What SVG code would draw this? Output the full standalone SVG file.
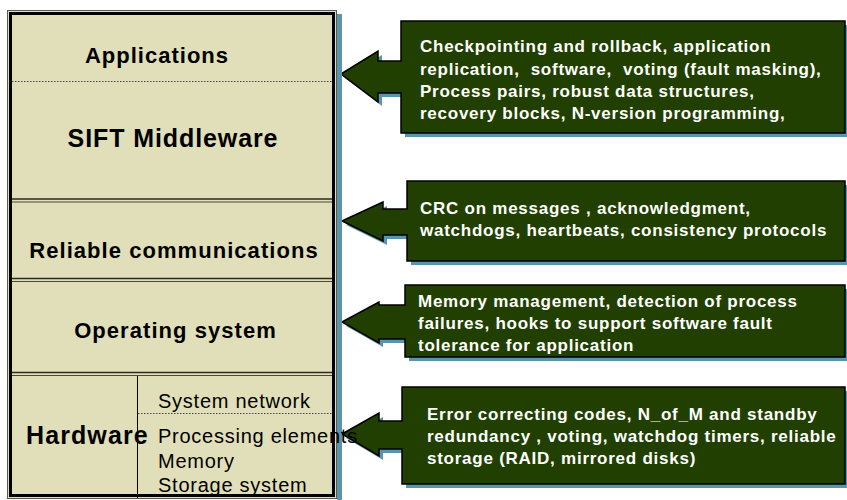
<svg xmlns="http://www.w3.org/2000/svg" width="847" height="500" viewBox="0 0 847 500">
<style>
.bg{fill:#ffffff}
.layer{fill:#e0dfb9}
.t{font-family:"Liberation Sans",Arial,sans-serif;fill:#000}
.b{font-weight:bold}
.w{font-family:"Liberation Sans",Arial,sans-serif;font-weight:bold;font-size:17px;letter-spacing:0.75px;fill:#ffffff}
.callout{fill:#213f00;stroke:#000;stroke-width:1.5;stroke-linejoin:miter}
.shadow{fill:#5b95ad}
.dot{stroke:#444;stroke-width:1;stroke-dasharray:1.5 1.5;fill:none}
.dbl1{stroke:#2a2a20;stroke-width:1.5}
.dbl2{stroke:#4a4a3a;stroke-width:1.2}
.sub{font-size:20px;letter-spacing:0.75px}
</style>
<rect class="bg" x="0" y="0" width="847" height="500"/>

<g id="connectors">
  <g id="arrow-apps">
    <polygon class="shadow" transform="translate(4,4)" points="341,74 378,51 378,61 401,61 401,21 845,21 845,133 401,133 401,93 378,93 378,102"/>
    <polygon class="callout" points="341,74 378,51 378,61 401,61 401,21 845,21 845,133 401,133 401,93 378,93 378,102"/>
  </g>
  <g id="arrow-comm">
    <polygon class="shadow" transform="translate(4,4)" points="342,221 383,202 383,209 407,209 407,181 845,181 845,261 407,261 407,235 383,235 383,241"/>
    <polygon class="callout" points="342,221 383,202 383,209 407,209 407,181 845,181 845,261 407,261 407,235 383,235 383,241"/>
  </g>
  <g id="arrow-os">
    <polygon class="shadow" transform="translate(4,4)" points="342,322 379,302 379,305 405,305 405,285 845,285 845,357 405,357 405,339 379,339 379,343"/>
    <polygon class="callout" points="342,322 379,302 379,305 405,305 405,285 845,285 845,357 405,357 405,339 379,339 379,343"/>
  </g>
  <g id="arrow-hw">
    <polygon class="shadow" transform="translate(4,4)" points="342,434 379,413 379,421 402,421 402,387 845,387 845,484 402,484 402,449 379,449 379,456"/>
    <polygon class="callout" points="342,434 379,413 379,421 402,421 402,387 845,387 845,484 402,484 402,449 379,449 379,456"/>
  </g>
</g>

<g id="callout-apps-text">
  <text class="w" x="420" y="52">Checkpointing and rollback, application</text>
  <text class="w" x="420" y="75" xml:space="preserve">replication,  software,  voting (fault masking),</text>
  <text class="w" x="420" y="97">Process pairs, robust data structures,</text>
  <text class="w" x="420" y="119">recovery blocks, N-version programming,</text>
</g>
<g id="callout-comm-text">
  <text class="w" x="420" y="214">CRC on messages , acknowledgment,</text>
  <text class="w" x="420" y="236">watchdogs, heartbeats, consistency protocols</text>
</g>
<g id="callout-os-text">
  <text class="w" x="418" y="307">Memory management, detection of process</text>
  <text class="w" x="418" y="329">failures, hooks to support software fault</text>
  <text class="w" x="418" y="351">tolerance for application</text>
</g>
<g id="callout-hw-text">
  <text class="w" x="427" y="420">Error correcting codes, N_of_M and standby</text>
  <text class="w" x="427" y="442">redundancy , voting, watchdog timers, reliable</text>
  <text class="w" x="427" y="464">storage (RAID, mirrored disks)</text>
</g>

<g id="stack">
  <rect class="shadow" x="337" y="14" width="5" height="486"/>
  <rect class="layer" x="8" y="11" width="328" height="487"/>
  <rect x="7.5" y="10.5" width="329" height="488" fill="none" stroke="#5a5a48" stroke-width="1"/>
  <rect x="10.5" y="13.5" width="323" height="482" fill="none" stroke="#000" stroke-width="3"/>
</g>

<g id="layer-applications">
  <line class="dot" x1="12" y1="81.5" x2="332" y2="81.5"/>
  <text class="t b" x="157" y="63" font-size="22" letter-spacing="1" text-anchor="middle">Applications</text>
</g>
<g id="layer-sift">
  <text class="t b" x="173" y="147" font-size="25" letter-spacing="0.9" text-anchor="middle">SIFT Middleware</text>
  <line class="dbl1" x1="12" y1="199" x2="332" y2="199"/>
  <line class="dbl2" x1="12" y1="202" x2="332" y2="202"/>
</g>
<g id="layer-comm">
  <text class="t b" x="174" y="258" font-size="22" letter-spacing="1.05" text-anchor="middle">Reliable communications</text>
  <line class="dbl1" x1="12" y1="278.5" x2="332" y2="278.5"/>
  <line class="dbl2" x1="12" y1="281.5" x2="332" y2="281.5"/>
</g>
<g id="layer-os">
  <text class="t b" x="175.5" y="338" font-size="22" letter-spacing="1.05" text-anchor="middle">Operating system</text>
  <line class="dbl1" x1="12" y1="372.5" x2="332" y2="372.5"/>
  <line class="dbl2" x1="12" y1="375.5" x2="332" y2="375.5"/>
</g>
<g id="layer-hardware">
  <line x1="137.5" y1="376" x2="137.5" y2="498" stroke="#000" stroke-width="1"/>
  <line class="dot" x1="138" y1="413.5" x2="332" y2="413.5"/>
  <text class="t b" x="26" y="444" font-size="25" letter-spacing="1.1">Hardware</text>
  <text class="t sub" x="158" y="408">System network</text>
  <text class="t sub" x="158" y="443">Processing elements</text>
  <text class="t sub" x="158" y="468">Memory</text>
  <text class="t sub" x="158" y="492">Storage system</text>
</g>
</svg>
